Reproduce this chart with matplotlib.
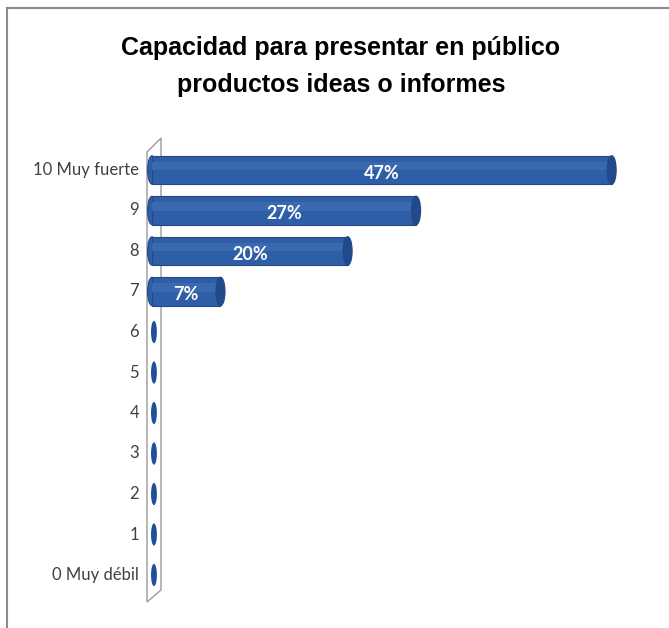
import matplotlib
matplotlib.use("Agg")
import matplotlib.pyplot as plt
from matplotlib.patches import Ellipse, Polygon
from matplotlib.lines import Line2D

categories = ["0 Muy débil", "1", "2", "3", "4", "5", "6", "7", "8", "9", "10 Muy fuerte"]
values = [0, 0, 0, 0, 0, 0, 0, 7, 20, 27, 47]
labels = ["", "", "", "", "", "", "", "7%", "20%", "27%", "47%"]

W, H = 669, 628
fig = plt.figure(figsize=(W / 100, H / 100), dpi=100)
fig.patch.set_facecolor("white")

title_font = "Liberation Sans"
lab_font = "Lato"

def fx(px):
    return px / W

def fy(py):
    return 1 - py / H

ax = fig.add_axes([fx(152), fy(595.25), fx(641) - fx(152), fy(149.75) - fy(595.25)])
ax.set_xlim(0, 50)
ax.set_ylim(-0.5, 10.5)
ax.axis("off")

# 3D wall
wall = Polygon([(fx(147), fy(152)), (fx(161), fy(138)), (fx(161), fy(590)), (fx(147), fy(602))],
               closed=True, transform=fig.transFigure, facecolor="white",
               edgecolor="#9a9a9a", linewidth=1.0, zorder=1, clip_on=False)
ax.add_patch(wall)

# figure border (left and top)
fig.add_artist(Line2D([fx(7), fx(7)], [fy(8), fy(628)], transform=fig.transFigure, color="#8c8c8c", lw=1.5))
fig.add_artist(Line2D([fx(7), fx(669)], [fy(8), fy(8)], transform=fig.transFigure, color="#8c8c8c", lw=1.5))

ypos = list(range(len(categories)))
bar_h = 0.7
main = "#2E5EA6"
dark = "#22498A"
lws = [0.8 if v > 0 else 0 for v in values]
ax.barh(ypos, values, height=bar_h, color=main, edgecolor=dark, linewidth=lws, zorder=3)
# highlight band to suggest cylinder shading
ax.barh([y + 0.1 for y in ypos], values, height=0.2, color="#3A69B0", linewidth=0, zorder=4)

for y, v in zip(ypos, values):
    if v > 0:
        ax.add_patch(Ellipse((v, y), width=0.9, height=bar_h, facecolor=dark,
                             edgecolor=dark, zorder=5, clip_on=False))
        ax.add_patch(Ellipse((0, y), width=0.9, height=bar_h, facecolor=main,
                             edgecolor=dark, linewidth=0.8, zorder=2.9, clip_on=False))
    else:
        ax.add_patch(Ellipse((0.2, y), width=0.6, height=0.55, facecolor="#1F4F96",
                             edgecolor="none", zorder=5, clip_on=False))

for y, v, lab in zip(ypos, values, labels):
    if lab:
        ax.text(v / 2, y - 0.08, lab, color="white", fontsize=13, fontweight="bold",
                family=lab_font, ha="center", va="center", zorder=6)

for y, c in zip(ypos, categories):
    fig.text(fx(139), ax.transData.transform((0, y))[1] / H, c, ha="right", va="center",
             fontsize=12, family=lab_font, color="#404040")

fig.text(fx(341), fy(48), "Capacidad para presentar en público", ha="center", va="center",
         fontsize=18, fontweight="bold", family=title_font, color="black")
fig.text(fx(341), fy(85), "productos ideas o informes", ha="center", va="center",
         fontsize=18, fontweight="bold", family=title_font, color="black")

fig.savefig("out.png", dpi=100, facecolor="white")
